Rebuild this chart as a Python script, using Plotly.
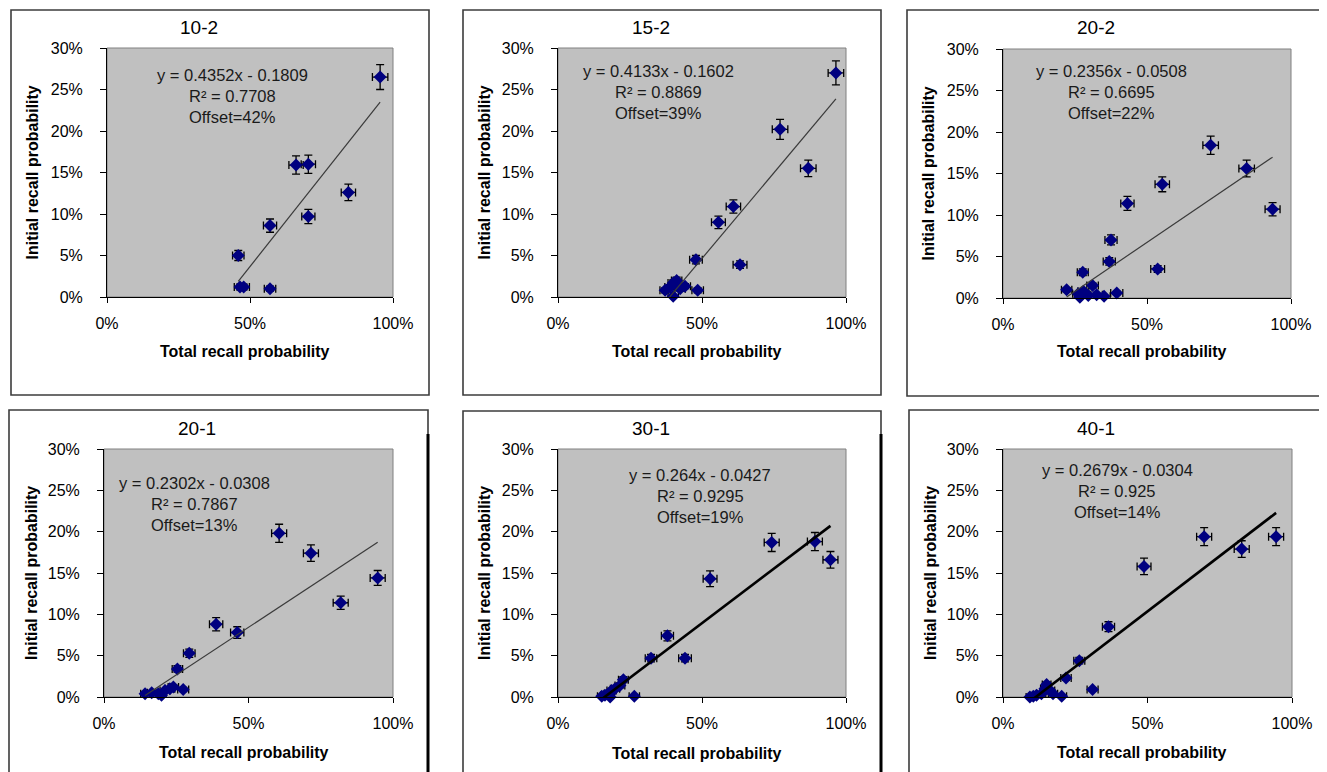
import numpy as np
import plotly.graph_objects as go

W, H = 1327, 772          # browser window
BODY = 8                  # default page margin around the plot div
FW, FH = W - BODY, H - BODY

# ---------------- data ----------------
titles = ["10-2", "15-2", "20-2", "20-1", "30-1", "40-1"]
slopes = [0.4352, 0.4133, 0.2356, 0.2302, 0.264, 0.2679]
intercepts = [-0.1809, -0.1602, -0.0508, -0.0308, -0.0427, -0.0304]
r2_labels = ["0.7708", "0.8869", "0.6695", "0.7867", "0.9295", "0.925"]
offset_labels = ["42%", "39%", "22%", "13%", "19%", "14%"]

x_tick_vals = [0, 0.5, 1.0]
y_tick_vals = [0, 0.05, 0.10, 0.15, 0.20, 0.25, 0.30]
x_title = "Total recall probability"
y_title = "Initial recall probability"

# values in percent
x_10_2 = [95.5, 66.1, 70.4, 84.4, 70.4, 57.0, 45.9, 46.5, 47.8, 57.0]
y_10_2 = [26.5, 15.9, 16.0, 12.6, 9.7, 8.6, 5.0, 1.2, 1.2, 1.0]
ex_10_2 = [2.7, 2.5, 2.5, 2.5, 2.3, 2.3, 2.0, 2.0, 2.0, 2.0]
ey_10_2 = [1.5, 1.1, 1.1, 1.0, 0.85, 0.8, 0.6, 0.35, 0.35, 0.3]

x_15_2 = [96.5, 77.1, 86.9, 60.9, 55.7, 47.9, 63.2, 48.5, 37.2, 38.9, 40.0, 41.2, 40.0, 44.1, 42.4]
y_15_2 = [27.0, 20.2, 15.5, 10.9, 9.0, 4.5, 3.9, 0.8, 0.8, 1.2, 1.7, 2.0, 0.1, 1.3, 1.0]
ex_15_2 = [2.7, 2.7, 2.7, 2.5, 2.4, 2.2, 2.4, 2.0, 1.8, 1.8, 1.8, 1.8, 1.8, 1.9, 1.8]
ey_15_2 = [1.45, 1.2, 1.0, 0.8, 0.75, 0.5, 0.45, 0.3, 0.3, 0.3, 0.35, 0.4, 0.1, 0.3, 0.3]

x_20_2 = [72.1, 84.6, 93.6, 55.3, 43.2, 37.5, 36.9, 53.7, 27.7, 39.5, 31.1, 22.1, 26.1, 27.9, 29.6, 32.5, 35.1, 26.7]
y_20_2 = [18.4, 15.6, 10.7, 13.7, 11.4, 7.0, 4.4, 3.5, 3.1, 0.6, 1.5, 1.0, 0.5, 0.8, 0.3, 0.4, 0.2, 0.1]
ex_20_2 = [2.7, 2.7, 2.6, 2.5, 2.3, 2.1, 2.1, 2.4, 1.9, 2.1, 2.0, 1.8, 1.9, 1.9, 2.0, 2.0, 2.1, 1.9]
ey_20_2 = [1.1, 1.0, 0.8, 0.9, 0.85, 0.6, 0.45, 0.4, 0.4, 0.2, 0.3, 0.25, 0.2, 0.25, 0.15, 0.15, 0.1, 0.1]

x_20_1 = [60.6, 71.6, 81.9, 94.7, 38.8, 46.1, 29.5, 25.4, 27.4, 14.2, 16.5, 18.8, 21.1, 22.8, 24.0, 19.9]
y_20_1 = [19.8, 17.4, 11.4, 14.4, 8.8, 7.8, 5.3, 3.4, 0.9, 0.4, 0.5, 0.4, 0.8, 1.0, 1.2, 0.2]
ex_20_1 = [2.6, 2.6, 2.6, 2.6, 2.3, 2.3, 2.0, 1.8, 1.9, 1.5, 1.5, 1.6, 1.7, 1.7, 1.8, 1.6]
ey_20_1 = [1.1, 1.0, 0.8, 0.9, 0.8, 0.7, 0.5, 0.4, 0.25, 0.15, 0.15, 0.15, 0.2, 0.25, 0.25, 0.1]

x_30_1 = [74.2, 89.2, 94.6, 52.8, 38.0, 32.3, 44.1, 26.5, 15.2, 16.3, 17.5, 18.6, 19.8, 21.5, 22.7, 18.1]
y_30_1 = [18.7, 18.8, 16.6, 14.3, 7.4, 4.7, 4.7, 0.1, 0.1, 0.2, 0.4, 0.8, 1.0, 1.4, 2.1, 0.0]
ex_30_1 = [2.6, 2.6, 2.6, 2.4, 2.1, 2.0, 2.2, 1.8, 1.5, 1.5, 1.5, 1.6, 1.6, 1.7, 1.7, 1.5]
ey_30_1 = [1.1, 1.1, 1.0, 0.95, 0.6, 0.45, 0.45, 0.1, 0.1, 0.1, 0.15, 0.2, 0.25, 0.3, 0.35, 0.05]

x_40_1 = [69.6, 82.6, 94.5, 48.8, 36.5, 26.4, 21.8, 31.0, 20.3, 15.1, 9.3, 10.5, 11.6, 13.3, 16.3, 14.5, 17.3]
y_40_1 = [19.4, 17.9, 19.4, 15.8, 8.5, 4.4, 2.3, 0.9, 0.1, 1.5, 0.0, 0.1, 0.2, 0.4, 0.8, 1.0, 0.4]
ex_40_1 = [2.6, 2.6, 2.6, 2.4, 2.1, 1.9, 1.8, 1.9, 1.7, 1.5, 1.3, 1.4, 1.4, 1.5, 1.6, 1.5, 1.6]
ey_40_1 = [1.1, 1.0, 1.1, 1.0, 0.6, 0.4, 0.3, 0.2, 0.05, 0.3, 0.05, 0.05, 0.1, 0.15, 0.2, 0.25, 0.15]

panels_x = [x_10_2, x_15_2, x_20_2, x_20_1, x_30_1, x_40_1]
panels_y = [y_10_2, y_15_2, y_20_2, y_20_1, y_30_1, y_40_1]
panels_ex = [ex_10_2, ex_15_2, ex_20_2, ex_20_1, ex_30_1, ex_40_1]
panels_ey = [ey_10_2, ey_15_2, ey_20_2, ey_20_1, ey_30_1, ey_40_1]

# ---------------- layout geometry (window pixels) ----------------
plot_px = [(107, 393, 48, 297), (558, 846, 48, 297), (1003, 1291, 49, 298),
           (104, 393, 449, 697), (558, 846, 449, 697), (1003, 1292, 449, 697)]
frame_px = [(11, 10, 429, 395), (463, 10, 881, 395), (907, 10, 1325, 396),
            (9, 410, 428, 790), (463, 411, 881, 790), (909, 410, 1326, 790)]
title_px = [(199, 28), (651, 28), (1096, 28), (197, 428), (651, 428), (1096, 428)]
eq_px = [(232, 75), (658, 71), (1111, 71), (194, 483), (700, 475), (1117, 470)]
ytitle_px = [32, 484, 928, 31, 484, 930]
xtitle_px = [(245, 351), (697, 351), (1142, 352), (244, 752), (697, 753), (1142, 752)]
trend_width = [1.2, 1.2, 1.2, 1.2, 2.6, 2.6]
trend_color = ["#3a3a3a", "#3a3a3a", "#3a3a3a", "#3a3a3a", "#000000", "#000000"]

FONT = "Arial, 'Liberation Sans', sans-serif"


def px(x):
    return (x - BODY) / FW


def py(y):
    return 1 - (y - BODY) / FH


fig = go.Figure()
layout = dict(
    width=FW, height=FH, autosize=False,
    margin=dict(l=0, r=0, t=0, b=0, pad=0, autoexpand=False),
    paper_bgcolor="white", plot_bgcolor="#C0C0C0",
    showlegend=False, font=dict(family=FONT, color="black"),
)
annotations = []
shapes = []

for i in range(6):
    n = i + 1
    xs = "" if n == 1 else str(n)
    x0, x1, y0, y1 = plot_px[i]
    xv = np.array(panels_x[i]) / 100.0
    yv = np.array(panels_y[i]) / 100.0
    exv = np.array(panels_ex[i]) / 100.0
    eyv = np.array(panels_ey[i]) / 100.0

    fig.add_trace(go.Scatter(
        x=xv, y=yv, mode="markers", xaxis="x" + xs, yaxis="y" + xs,
        marker=dict(symbol="diamond", size=10, color="#000080", line=dict(width=0)),
        error_x=dict(type="data", array=exv, color="black", thickness=1.3, width=4),
        error_y=dict(type="data", array=eyv, color="black", thickness=1.3, width=4),
        cliponaxis=False, hoverinfo="skip",
    ))
    tx = np.array([xv.min(), xv.max()])
    ty = slopes[i] * tx + intercepts[i]
    fig.add_trace(go.Scatter(
        x=tx, y=ty, mode="lines", xaxis="x" + xs, yaxis="y" + xs,
        line=dict(color=trend_color[i], width=trend_width[i]), hoverinfo="skip",
    ))

    layout["xaxis" + xs] = dict(
        domain=[px(x0), px(x1)], anchor="y" + xs, range=[0, 1], automargin=False,
        tickvals=x_tick_vals, tickformat=".0%", ticks="outside", ticklen=5,
        tickcolor="black", showline=True, linecolor="black", linewidth=1,
        showgrid=False, zeroline=False, tickfont=dict(size=16, color="black"),
        ticklabelstandoff=7,
    )
    layout["yaxis" + xs] = dict(
        domain=[py(y1), py(y0)], anchor="x" + xs, range=[0, 0.30], automargin=False,
        tickvals=y_tick_vals, tickformat=".0%", ticks="outside", ticklen=6,
        tickcolor="black", showline=True, linecolor="black", linewidth=1,
        showgrid=False, zeroline=False, tickfont=dict(size=16, color="black"),
        ticklabelstandoff=14,
    )

    # plot-area border (gray)
    shapes.append(dict(type="rect", xref="x" + xs + " domain", yref="y" + xs + " domain",
                       x0=0, x1=1, y0=0, y1=1, line=dict(color="#808080", width=1),
                       layer="below"))
    # chart frame
    fx0, fy0, fx1, fy1 = frame_px[i]
    shapes.append(dict(type="rect", xref="paper", yref="paper",
                       x0=px(fx0), x1=px(fx1), y0=py(fy1), y1=py(fy0),
                       line=dict(color="#3c3c3c", width=1.6), layer="below"))

    # panel title
    annotations.append(dict(text=titles[i], x=px(title_px[i][0]), y=py(title_px[i][1]),
                            xref="paper", yref="paper", showarrow=False,
                            xanchor="center", yanchor="middle",
                            font=dict(size=19, color="black", family=FONT)))
    # trendline equation block
    eq_lines = [
        f"y = {slopes[i]:g}x - {abs(intercepts[i]):g}",
        f"R² = {r2_labels[i]}",
        f"Offset={offset_labels[i]}",
    ]
    for k, t in enumerate(eq_lines):
        annotations.append(dict(text=t, x=px(eq_px[i][0]), y=py(eq_px[i][1] + 20.8 * k),
                                xref="paper", yref="paper", showarrow=False,
                                xanchor="center", yanchor="middle",
                                font=dict(size=16.5, color="#1a1a1a", family=FONT)))
    # axis titles
    annotations.append(dict(text=f"<b>{y_title}</b>", x=px(ytitle_px[i]), y=py((y0 + y1) / 2),
                            xref="paper", yref="paper", showarrow=False, textangle=-90,
                            xanchor="center", yanchor="middle",
                            font=dict(size=16, color="black", family=FONT)))
    annotations.append(dict(text=f"<b>{x_title}</b>", x=px(xtitle_px[i][0]), y=py(xtitle_px[i][1]),
                            xref="paper", yref="paper", showarrow=False,
                            xanchor="center", yanchor="middle",
                            font=dict(size=16, color="black", family=FONT)))

# thicker right edges (shadow) of the lower-left and lower-middle frames
for xx in (428, 881):
    shapes.append(dict(type="line", xref="paper", yref="paper", x0=px(xx), x1=px(xx),
                       y0=py(790), y1=py(434), line=dict(color="black", width=3), layer="below"))

layout["annotations"] = annotations
layout["shapes"] = shapes
fig.update_layout(**layout)
fig.write_html("out.html")
